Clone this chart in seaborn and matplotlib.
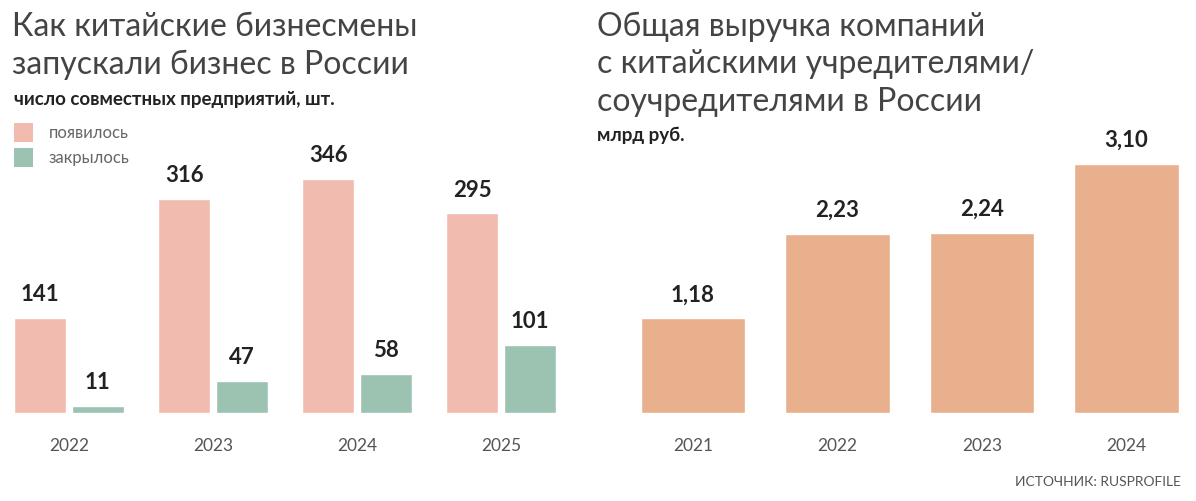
import matplotlib
matplotlib.use("Agg")
import matplotlib.pyplot as plt
import seaborn as sns
import pandas as pd
from matplotlib.patches import Rectangle

# Data
years_left = ["2022", "2023", "2024", "2025"]
opened = [141, 316, 346, 295]
closed = [11, 47, 58, 101]
series_names = ["появилось", "закрылось"]

years_right = ["2021", "2022", "2023", "2024"]
revenue = [1.18, 2.23, 2.24, 3.10]
revenue_labels = ["1,18", "2,23", "2,24", "3,10"]

PINK = "#F2BBAF"
GREEN = "#9CC3B2"
ORANGE = "#E8B08C"
FONT = "Lato"

sns.set_style("white")
plt.rcParams["font.family"] = [FONT, "DejaVu Sans"]

W, H = 1196, 502
fig = plt.figure(figsize=(W / 100, H / 100), dpi=100)


def px_axes(x0, x1, y_top, y_bot):
    return fig.add_axes([x0 / W, 1 - y_bot / H, (x1 - x0) / W, (y_bot - y_top) / H])


# Left chart
df_left = pd.DataFrame({
    "year": years_left * 2,
    "value": opened + closed,
    "kind": [series_names[0]] * 4 + [series_names[1]] * 4,
})
axl = px_axes(10, 570, 100, 414)
sns.barplot(data=df_left, x="year", y="value", hue="kind", palette=[PINK, GREEN],
            width=0.8, gap=0.1, ax=axl, legend=False, saturation=1)
axl.set_xlim((10 - 69) / 144, (570 - 69) / 144)
axl.set_ylim(0, 314 * 346 / 234)
for container in axl.containers:
    for bar in container:
        h = bar.get_height()
        axl.annotate(f"{int(h)}", (bar.get_x() + bar.get_width() / 2, h),
                     xytext=(0, 10), textcoords="offset points", ha="center", va="bottom",
                     fontsize=16, fontweight="bold", color="#222222")

# Right chart
df_right = pd.DataFrame({"year": years_right, "value": revenue})
axr = px_axes(620, 1190, 100, 414)
sns.barplot(data=df_right, x="year", y="value", color=ORANGE, width=0.72,
            ax=axr, saturation=1)
axr.set_xlim((620 - 693) / 144.5, (1190 - 693) / 144.5)
axr.set_ylim(0, 314 * 3.10 / 249)
for bar, lab in zip(axr.containers[0], revenue_labels):
    h = bar.get_height()
    axr.annotate(lab, (bar.get_x() + bar.get_width() / 2, h),
                 xytext=(0, 10), textcoords="offset points", ha="center", va="bottom",
                 fontsize=16, fontweight="bold", color="#222222")

for ax in (axl, axr):
    ax.set_xlabel("")
    ax.set_ylabel("")
    ax.set_yticks([])
    sns.despine(ax=ax, left=True, bottom=True)
    ax.tick_params(axis="x", length=0, pad=17, labelsize=12.5, labelcolor="#555555")
    ax.patch.set_alpha(0)

# Titles
fig.text(12 / W, 1 - 12 / H, "Как китайские бизнесмены\nзапускали бизнес в России",
         ha="left", va="top", fontsize=23, color="#444444", linespacing=1.3)
fig.text(14 / W, 1 - 100 / H, "число совместных предприятий, шт.", ha="left", va="center",
         fontsize=13.5, fontweight="bold", color="#222222")
fig.text(597 / W, 1 - 12 / H, "Общая выручка компаний\nс китайскими учредителями/\nсоучредителями в России",
         ha="left", va="top", fontsize=23, color="#444444", linespacing=1.3)
fig.text(597 / W, 1 - 135 / H, "млрд руб.", ha="left", va="center",
         fontsize=13.5, fontweight="bold", color="#222222")

# Legend
for i, (name, col) in enumerate(zip(series_names, [PINK, GREEN])):
    y = 124 + i * 25
    fig.patches.append(Rectangle((14 / W, 1 - (y + 19) / H), 19 / W, 19 / H,
                                 transform=fig.transFigure, facecolor=col, edgecolor="none"))
    fig.text(49 / W, 1 - (y + 9) / H, name, ha="left", va="center",
             fontsize=12, color="#666666")

fig.text(1181 / W, 1 - 482 / H, "ИСТОЧНИК: RUSPROFILE", ha="right", va="center",
         fontsize=10, color="#555555")

fig.savefig("out.png", dpi=100)
